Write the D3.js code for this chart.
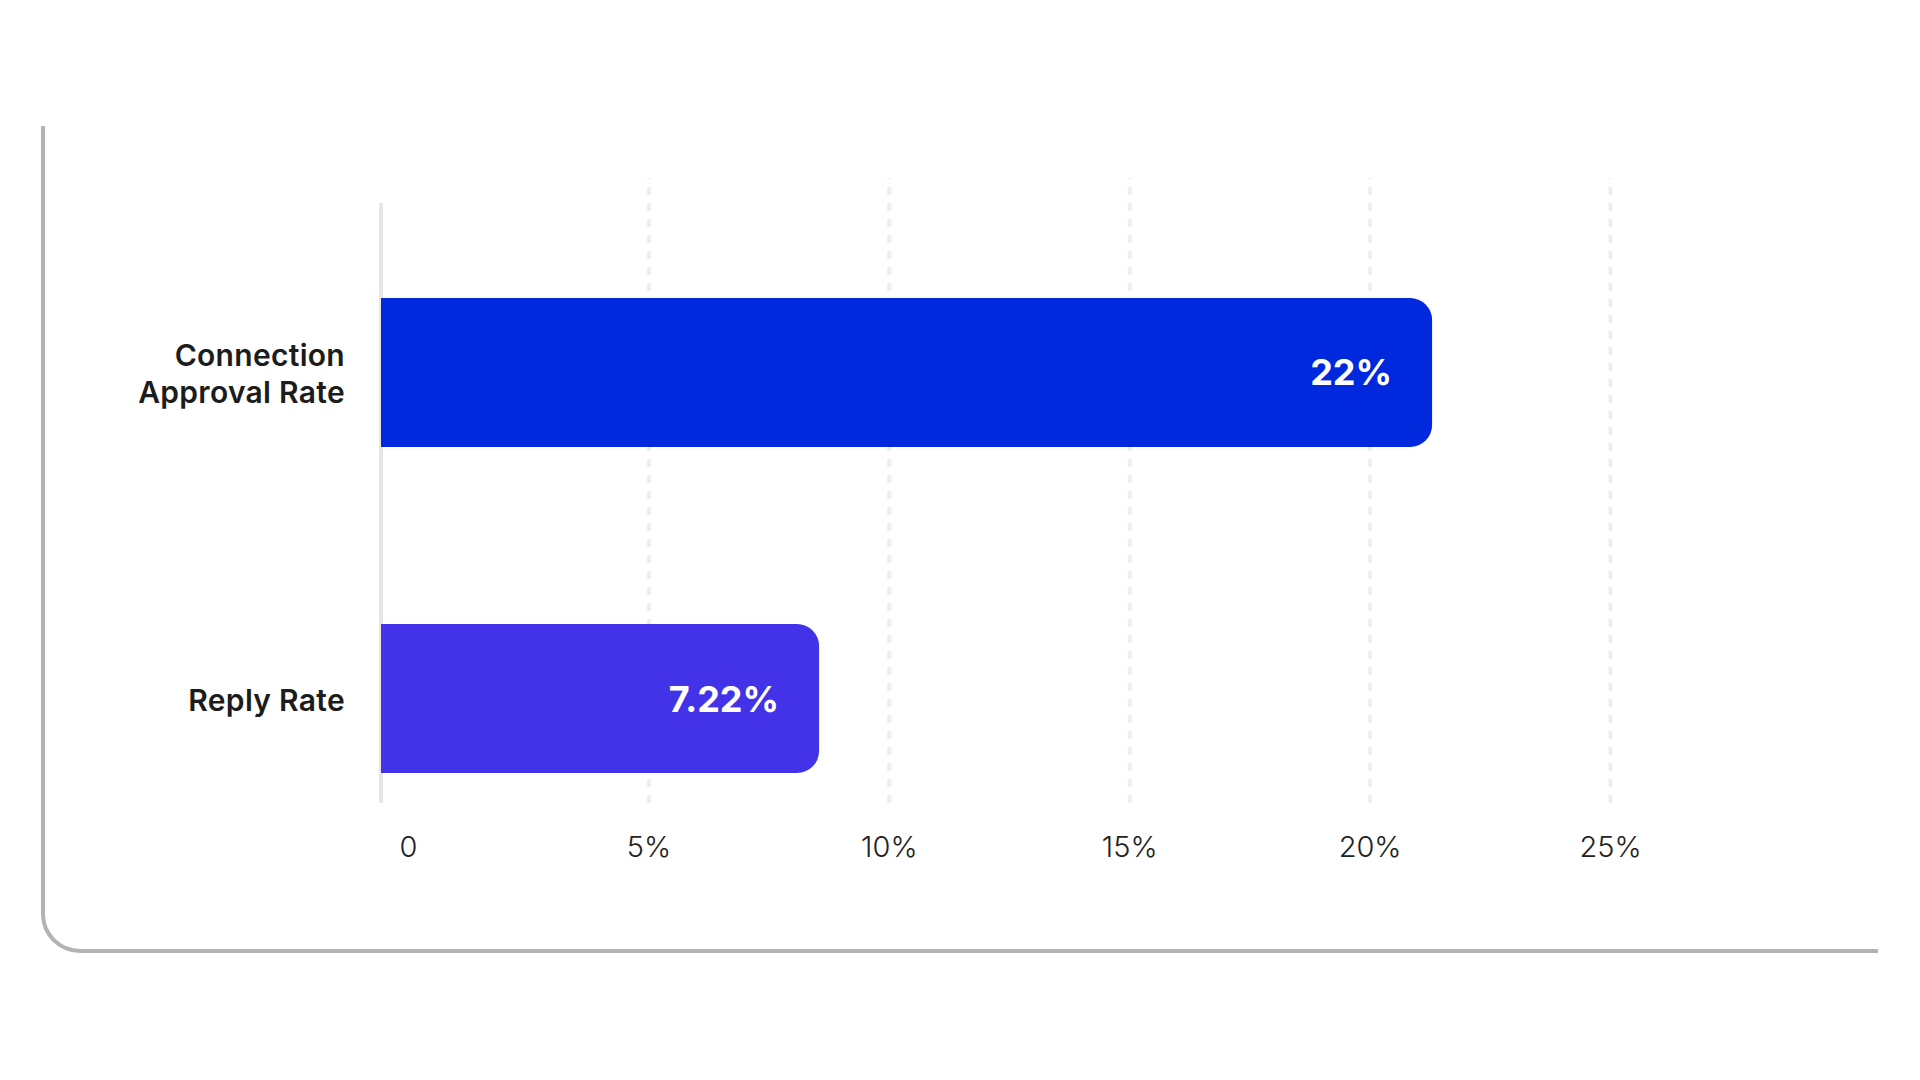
<!DOCTYPE html>
<html>
<head>
<meta charset="utf-8">
<script src="https://cdn.jsdelivr.net/npm/d3@7"></script>
<style>
  body { margin: 0; background: #fff; }
  svg text { font-family: Inter, "Noto Sans", sans-serif; }
</style>
</head>
<body>
<div id="chart"></div>
<script>
// categories, top first as in the picture
var categories = [["Connection", "Approval Rate"], ["Reply Rate"]];
// bar lengths as drawn
var barLengths = [21.3, 8.55];
// printed values inside the bars
var barLabels = ["22%", "7.22%"];
var barColors = ["#0028dc", "#4233e8"];
var tickValues = [0, 5, 10, 15, 20, 25];

var width = 1920, height = 1080;

var svg = d3.select("#chart")
  .append("svg")
  .attr("width", width)
  .attr("height", height);

// frame: left edge and bottom edge with rounded corner
var frame = d3.path();
frame.moveTo(43, 126);
frame.lineTo(43, 914);
frame.arcTo(43, 951, 80, 951, 37);
frame.lineTo(1878, 951);
svg.append("path")
  .attr("d", frame.toString())
  .attr("fill", "none")
  .attr("stroke", "#b3b3b3")
  .attr("stroke-width", 4);

// scales
var x = d3.scaleLinear()
  .domain([0, 25])
  .range([408, 1610]);

var y = d3.scaleBand()
  .domain(d3.range(categories.length))
  .range([203, 803])
  .paddingInner(0.543)
  .paddingOuter(0.1917)
  .align(0.76);

var gridTop = 178, gridBottom = 803;
var axisX = 381; // vertical baseline sits a little left of zero

// x axis with dashed grid lines
var xAxis = svg.append("g")
  .attr("transform", "translate(0," + gridBottom + ")")
  .call(d3.axisBottom(x)
    .tickValues(tickValues)
    .tickSize(-(gridBottom - gridTop))
    .tickPadding(33)
    .tickFormat(function(d) { return d === 0 ? "0" : d + "%"; }));
xAxis.select(".domain").remove();
xAxis.selectAll(".tick line")
  .attr("stroke", "#efefef")
  .attr("stroke-width", 4)
  .attr("stroke-dasharray", "8,8")
  .style("display", function(d) { return d === 0 ? "none" : null; });
xAxis.selectAll(".tick text")
  .attr("fill", "#222")
  .style("font-size", "29px")
  .style("font-weight", 300)
  .style("font-family", "Inter, 'Noto Sans', sans-serif");

// vertical baseline
svg.append("line")
  .attr("x1", axisX).attr("x2", axisX)
  .attr("y1", gridTop + 25).attr("y2", gridBottom)
  .attr("stroke", "#e6e6e6")
  .attr("stroke-width", 4);

// bar with rounded right corners
function barPath(x0, x1, y0, h, r) {
  var p = d3.path();
  p.moveTo(x0, y0);
  p.lineTo(x1 - r, y0);
  p.arcTo(x1, y0, x1, y0 + r, r);
  p.lineTo(x1, y0 + h - r);
  p.arcTo(x1, y0 + h, x1 - r, y0 + h, r);
  p.lineTo(x0, y0 + h);
  p.closePath();
  return p.toString();
}

var bars = svg.selectAll(".bar")
  .data(barLengths)
  .enter()
  .append("g")
  .attr("class", "bar");

bars.append("path")
  .attr("d", function(d, i) {
    return barPath(axisX, x(d), y(i), y.bandwidth(), 22);
  })
  .attr("fill", function(d, i) { return barColors[i]; });

bars.append("text")
  .attr("x", function(d) { return x(d) - 40; })
  .attr("y", function(d, i) { return y(i) + y.bandwidth() / 2 + 13; })
  .attr("text-anchor", "end")
  .attr("fill", "#fff")
  .style("font-size", "36px")
  .style("font-weight", 700)
  .text(function(d, i) { return barLabels[i]; });

// category labels
var lineH = 36.7;
var cats = svg.selectAll(".cat")
  .data(categories)
  .enter()
  .append("text")
  .attr("class", "cat")
  .attr("text-anchor", "end")
  .attr("fill", "#1c1c1c")
  .style("font-size", "30px")
  .style("letter-spacing", "0.3px")
  .style("font-weight", 600);

cats.each(function(lines, i) {
  var mid = y(i) + y.bandwidth() / 2 + 12;
  var first = mid - (lines.length - 1) * lineH / 2;
  d3.select(this).selectAll("tspan")
    .data(lines)
    .enter()
    .append("tspan")
    .attr("x", 345)
    .attr("y", function(d, j) { return first + j * lineH; })
    .text(function(d) { return d; });
});
</script>
</body>
</html>
